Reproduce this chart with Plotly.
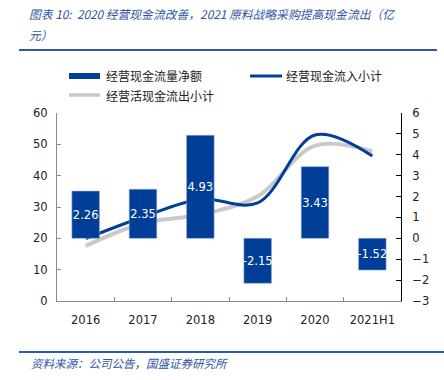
import plotly.graph_objects as go

categories = ["2016", "2017", "2018", "2019", "2020", "2021H1"]
net_flow = [2.26, 2.35, 4.93, -2.15, 3.43, -1.52]
inflow = [19.9, 26.8, 32.5, 31.3, 53.0, 46.3]
outflow = [17.6, 24.8, 27.6, 33.4, 49.6, 47.8]
net_labels = ["2.26", "2.35", "4.93", "-2.15", "3.43", "-1.52"]

title_line1 = "图表 10:  2020 经营现金流改善，2021 原料战略采购提高现金流出（亿"
title_line2 = "元）"
source_text = "资料来源：公司公告，国盛证券研究所"
legend_names = ["经营现金流量净额", "经营现金流入小计", "经营活现金流出小计"]

BLUE = "#013E97"
GRAY = "#C9C9C9"
TITLE_BLUE = "#2F55A3"
TICK_FONT = dict(family="DejaVu Sans", size=11.5, color="#222222")
CJK = "Noto Sans CJK SC"

PL, PR, PT, PB = 57, 401, 113, 301  # plot area in page pixels
W, H = 444, 380

fig = go.Figure()
fig.add_trace(go.Scatter(x=categories, y=outflow, mode="lines", name=legend_names[2],
                         line=dict(color=GRAY, width=4, shape="spline", smoothing=1.0),
                         yaxis="y", showlegend=False))
fig.add_trace(go.Scatter(x=categories, y=inflow, mode="lines", name=legend_names[1],
                         line=dict(color=BLUE, width=3, shape="spline", smoothing=1.0),
                         yaxis="y", showlegend=False))
fig.add_trace(go.Bar(x=categories, y=net_flow, name=legend_names[0], yaxis="y2",
                     marker=dict(color=BLUE, line=dict(color="#8FA6CF", width=0.6)),
                     width=0.48, text=net_labels, textposition="inside", textangle=0,
                     insidetextanchor="middle", constraintext="none",
                     textfont=dict(family="DejaVu Sans", size=11.5, color="white"),
                     cliponaxis=False, showlegend=False))

fig.update_layout(
    width=W, height=H,
    margin=dict(l=PL, r=W - PR, t=PT, b=H - PB, autoexpand=False),
    paper_bgcolor="white", plot_bgcolor="white",
    showlegend=False,
    xaxis=dict(type="category", tickson="boundaries", ticks="inside", ticklen=4,
               tickcolor="#8C8C8C", showline=True, linecolor="#8C8C8C", linewidth=1,
               showgrid=False, tickfont=TICK_FONT, ticklabelstandoff=8, zeroline=False),
    yaxis=dict(range=[0, 60], dtick=10, ticks="inside", ticklen=4, tickcolor="#8C8C8C",
               showline=True, linecolor="#8C8C8C", linewidth=1, showgrid=False,
               zeroline=False, tickfont=TICK_FONT, ticklabelstandoff=6),
    yaxis2=dict(range=[-3, 6], dtick=1, overlaying="y", side="right", ticks="inside",
                ticklen=5, tickcolor="#000000", showline=True, linecolor="#000000",
                linewidth=1, showgrid=False, zeroline=False, tickfont=TICK_FONT,
                ticklabelstandoff=8),
)

def paper_x(px):
    return (px - PL) / (PR - PL)
def paper_y(py):
    return (PB - py) / (PB - PT)

fig.add_annotation(text=f"<i>{title_line1}</i>", xref="paper", yref="paper",
                   x=paper_x(27), y=paper_y(14), xanchor="left", yanchor="middle",
                   showarrow=False, font=dict(family=CJK, size=11.8, color=TITLE_BLUE))
fig.add_annotation(text=f"<i>{title_line2}</i>", xref="paper", yref="paper",
                   x=paper_x(27), y=paper_y(34), xanchor="left", yanchor="middle",
                   showarrow=False, font=dict(family=CJK, size=11.8, color=TITLE_BLUE))
fig.add_shape(type="line", xref="paper", yref="paper", x0=paper_x(19), x1=paper_x(437),
              y0=paper_y(50), y1=paper_y(50), line=dict(color="#2A5BA8", width=2))
fig.add_shape(type="line", xref="paper", yref="paper", x0=paper_x(19), x1=paper_x(444),
              y0=paper_y(352), y1=paper_y(352), line=dict(color="#2A5BA8", width=2))
fig.add_annotation(text=f"<i>{source_text}</i>", xref="paper", yref="paper",
                   x=paper_x(29), y=paper_y(363), xanchor="left", yanchor="middle",
                   showarrow=False, font=dict(family=CJK, size=11.5, color=TITLE_BLUE))

# legend drawn manually
LEG_FONT = dict(family=CJK, size=12, color="#222222")
fig.add_shape(type="rect", xref="paper", yref="paper", x0=paper_x(69), x1=paper_x(100),
              y0=paper_y(79), y1=paper_y(73), fillcolor=BLUE, line=dict(width=0))
fig.add_annotation(text=legend_names[0], xref="paper", yref="paper", x=paper_x(104),
                   y=paper_y(76), xanchor="left", yanchor="middle", showarrow=False, font=LEG_FONT)
fig.add_shape(type="line", xref="paper", yref="paper", x0=paper_x(250), x1=paper_x(282),
              y0=paper_y(76), y1=paper_y(76), line=dict(color=BLUE, width=3))
fig.add_annotation(text=legend_names[1], xref="paper", yref="paper", x=paper_x(284),
                   y=paper_y(76), xanchor="left", yanchor="middle", showarrow=False, font=LEG_FONT)
fig.add_shape(type="line", xref="paper", yref="paper", x0=paper_x(69), x1=paper_x(100),
              y0=paper_y(95), y1=paper_y(95), line=dict(color=GRAY, width=3.5))
fig.add_annotation(text=legend_names[2], xref="paper", yref="paper", x=paper_x(104),
                   y=paper_y(95), xanchor="left", yanchor="middle", showarrow=False, font=LEG_FONT)

fig.write_html("out.html", config={"displayModeBar": False},
               post_script="document.body.style.margin='0';document.body.style.overflow='hidden';")
